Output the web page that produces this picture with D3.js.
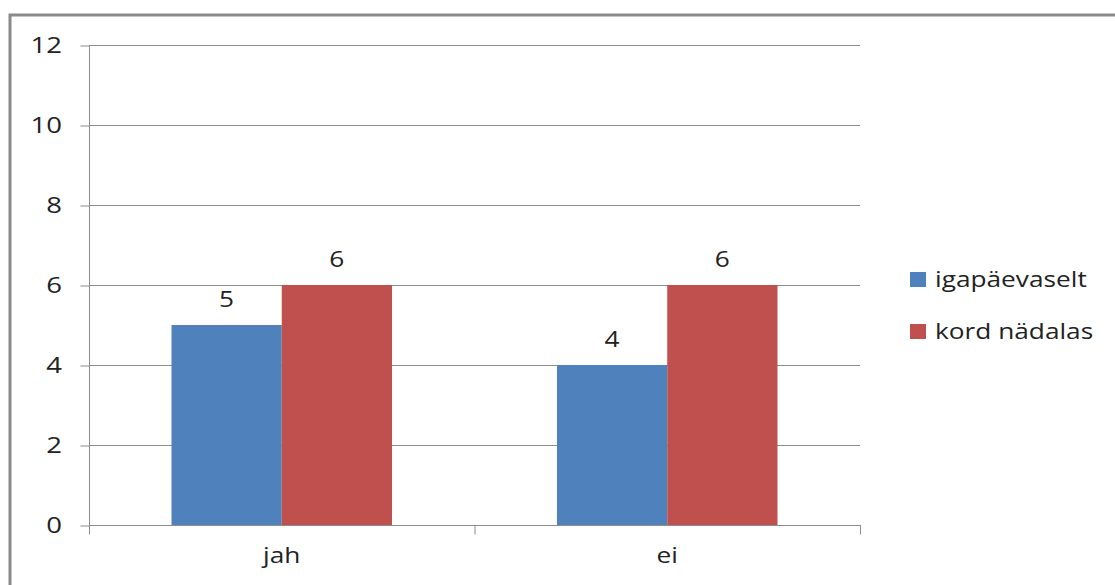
<!DOCTYPE html>
<html>
<head>
<meta charset="utf-8">
<script src="https://cdn.jsdelivr.net/npm/d3@7"></script>
<style>
body { margin: 0; background: #fff; }
svg text { font-family: "Open Sans", "Liberation Sans", sans-serif; fill: #222; }
</style>
</head>
<body>
<svg id="chart" width="1115" height="585"></svg>
<script>
var categories = ["jah", "ei"];
var seriesNames = ["igapäevaselt", "kord nädalas"];
var seriesValues = [[5, 4], [6, 6]];
var yTicks = [0, 2, 4, 6, 8, 10, 12];
var colors = ["#4F81BD", "#C0504D"];

var svg = d3.select("#chart");
var SX = 1.25; // text in the reference is drawn wide

// draws a horizontally stretched text at (px, py)
var wideText = function(parent, px, py, str, size, anchor) {
    return parent.append("text")
        .attr("transform", "translate(" + px + "," + py + ") scale(" + SX + ",1)")
        .attr("font-size", size)
        .attr("text-anchor", anchor || "start")
        .text(str);
};

// outer border
svg.append("rect")
    .attr("x", 10).attr("y", 15)
    .attr("width", 1200).attr("height", 700)
    .attr("fill", "none")
    .attr("stroke", "#8a8a8a")
    .attr("stroke-width", 3);

var pLeft = 89, pRight = 860, pTop = 45, pBottom = 525;

var x = d3.scaleBand().domain(categories).range([pLeft, pRight]);
var y = d3.scaleLinear().domain([0, 12]).range([pBottom, pTop]);

// gridlines
svg.append("g").selectAll("line").data(yTicks.filter(function(d){return d > 0;}))
    .enter().append("line")
    .attr("x1", pLeft).attr("x2", pRight)
    .attr("y1", function(d){return y(d) + 0.5;})
    .attr("y2", function(d){return y(d) + 0.5;})
    .attr("stroke", "#8c8c8c").attr("stroke-width", 1);

// bars
var barW = x.bandwidth() * 0.286;
seriesValues.forEach(function(vals, s){
    var g = svg.append("g");
    g.selectAll("rect").data(vals).enter().append("rect")
        .attr("x", function(d, i){return x(categories[i]) + x.bandwidth() / 2 - barW + s * barW;})
        .attr("y", function(d){return y(d);})
        .attr("width", barW)
        .attr("height", function(d){return y(0) - y(d);})
        .attr("fill", colors[s]);
    vals.forEach(function(d, i){
        wideText(g, x(categories[i]) + x.bandwidth() / 2 - barW / 2 + s * barW, y(d) - 18, d, 21, "middle");
    });
});

// y axis
var yAxis = svg.append("g")
    .attr("transform", "translate(" + (pLeft + 0.5) + ",0.5)")
    .call(d3.axisLeft(y).tickValues(yTicks).tickSize(9).tickFormat(""));
yAxis.selectAll("line, path").attr("stroke", "#8c8c8c");
yAxis.select("path").attr("d", "M0," + pTop + "V" + pBottom);
yTicks.forEach(function(t){
    wideText(svg, 62, y(t) + 8, t, 22, "end");
});

// x axis
var xAxis = svg.append("g")
    .attr("transform", "translate(0," + (pBottom + 0.5) + ")");
xAxis.append("line")
    .attr("x1", pLeft).attr("x2", pRight + 1)
    .attr("stroke", "#8c8c8c");
xAxis.selectAll(".tk").data(categories.concat(["end"])).enter().append("line")
    .attr("x1", function(d, i){return pLeft + 0.5 + i * x.bandwidth();})
    .attr("x2", function(d, i){return pLeft + 0.5 + i * x.bandwidth();})
    .attr("y1", 0).attr("y2", 9)
    .attr("stroke", "#8c8c8c");
categories.forEach(function(c){
    wideText(svg, x(c) + x.bandwidth() / 2, pBottom + 38, c, 21, "middle");
});

// legend
var legend = svg.append("g").attr("transform", "translate(910,272)");
seriesNames.forEach(function(n, i){
    legend.append("rect")
        .attr("x", 0).attr("y", i * 52)
        .attr("width", 16).attr("height", 15)
        .attr("fill", colors[i]);
    wideText(legend, 25, i * 52 + 15, n, 21);
});
</script>
</body>
</html>
